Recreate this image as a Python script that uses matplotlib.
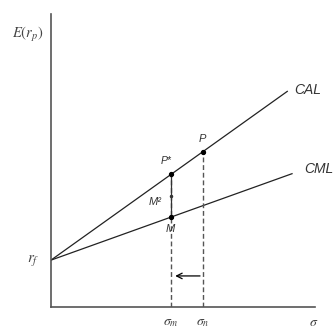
import matplotlib
matplotlib.use("Agg")
import matplotlib.pyplot as plt

# Capital market line vs capital allocation line (M-squared construction)
rf = 1.6            # risk-free rate
sigma_m = 4.55      # market portfolio risk
E_m = 3.07          # market portfolio expected return
sigma_p = 5.75      # portfolio P risk
E_p = 5.3           # portfolio P expected return
cal_end = 8.95      # where the CAL stops
cml_end = 9.13      # where the CML stops
arrow_y = 1.06      # height of the leverage arrow

cal_slope = (E_p - rf) / sigma_p
cml_slope = (E_m - rf) / sigma_m
E_pstar = rf + cal_slope * sigma_m

plt.rcParams["mathtext.fontset"] = "stix"

fig = plt.figure(figsize=(3.33, 3.29), dpi=100)
ax = fig.add_axes([51 / 333, 22 / 329, 264 / 333, 293 / 329])
ax.set_xlim(0, 10)
ax.set_ylim(0, 10)
for side in ("top", "right"):
    ax.spines[side].set_visible(False)
for side in ("left", "bottom"):
    ax.spines[side].set_color("#555555")
    ax.spines[side].set_linewidth(1.2)
ax.set_xticks([])
ax.set_yticks([])

# CAL and CML
ax.plot([0, cal_end], [rf, rf + cal_slope * cal_end], color="#222222", lw=0.9)
ax.plot([0, cml_end], [rf, rf + cml_slope * cml_end], color="#222222", lw=0.9)

# dashed risk markers
ax.plot([sigma_m, sigma_m], [0, E_pstar], color="#555555", lw=1.0, ls=(0, (3.5, 2)))
ax.plot([sigma_p, sigma_p], [0, E_p], color="#555555", lw=1.0, ls=(0, (3.5, 2)))
# M^2 gap
ax.plot([sigma_m, sigma_m], [E_m, E_pstar], color="#333333", lw=0.9)
ax.plot([sigma_m], [(E_m + E_pstar) / 2], "o", color="#333333", ms=1.5)

ax.plot([sigma_m, sigma_p, sigma_m], [E_pstar, E_p, E_m], "o", color="black", ms=2.8)

ax.annotate("", xy=(sigma_m + 0.05, arrow_y), xytext=(sigma_p, arrow_y),
            arrowprops=dict(arrowstyle="->", color="black", lw=0.9))

sans = dict(family="Liberation Sans", style="italic", color="#333333")
ax.text(cal_end + 0.25, rf + cal_slope * cal_end + 0.05, "CAL", fontsize=10,
        va="center", **sans)
ax.text(cml_end + 0.45, rf + cml_slope * cml_end + 0.15, "CML", fontsize=10,
        va="center", **sans)
ax.text(sigma_p, E_p + 0.45, "P", fontsize=8, ha="center", va="center", **sans)
ax.text(sigma_m - 0.2, E_pstar + 0.45, "P*", fontsize=7.5, ha="center", va="center", **sans)
ax.text(sigma_m - 0.6, (E_m + E_pstar) / 2 - 0.2, "M²", fontsize=8,
        ha="center", va="center", **sans)
ax.text(sigma_m - 0.05, E_m - 0.4, "M", fontsize=8, ha="center", va="center", **sans)

serif = dict(color="#444444")
ax.text(-0.45, rf, "$r_f$", fontsize=11, ha="right", va="center", **serif)
ax.text(-0.3, 9.3, "$E(r_p)$", fontsize=10.5, ha="right", va="center", **serif)
ax.text(sigma_m, -0.5, r"$\sigma_m$", fontsize=10, ha="center", va="center", **serif)
ax.text(sigma_p, -0.5, r"$\sigma_n$", fontsize=10, ha="center", va="center", **serif)
ax.text(9.95, -0.5, r"$\sigma$", fontsize=10, ha="center", va="center", **serif)

fig.savefig("out.png", dpi=100)
